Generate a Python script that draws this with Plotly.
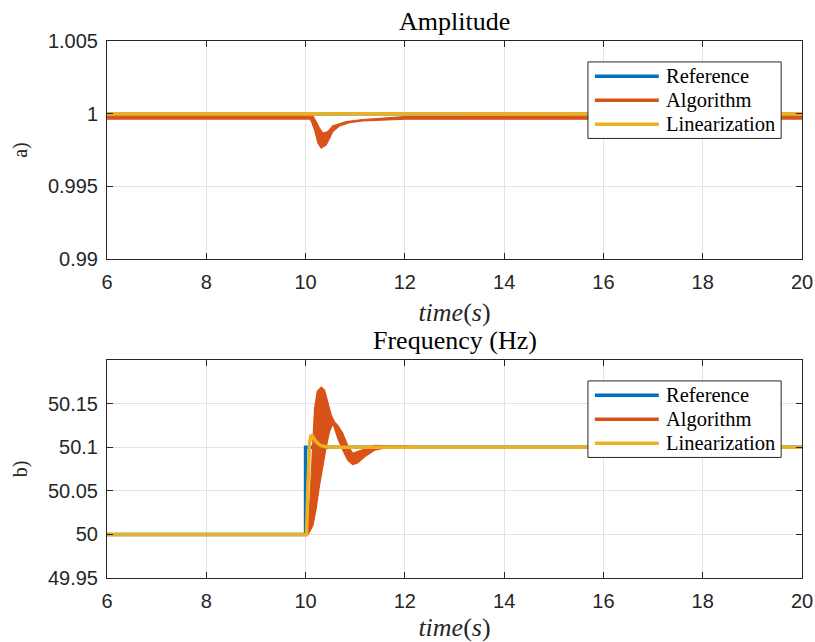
import plotly.graph_objects as go
from plotly.subplots import make_subplots

# ---------------- data ----------------
# Amplitude panel
t_amp_ref = [6, 20]
amp_ref = [1.0, 1.0]
t_amp_lin = [6, 20]
amp_lin = [1.0, 1.0]
# Algorithm: envelope of a fast-oscillating signal (upper / lower edges)
t_amp_alg_up = [6, 10.15, 10.215, 10.28, 10.35, 10.45, 10.55, 10.82, 11.15, 11.49, 12.0, 20]
amp_alg_up = [0.99983, 0.99983, 0.99945, 0.99900, 0.99866, 0.99877, 0.99916, 0.99945,
              0.99960, 0.99968, 0.99980, 0.99983]
t_amp_alg_lo = [6, 10.08, 10.115, 10.18, 10.25, 10.316, 10.417, 10.55, 10.685, 10.886,
                11.15, 11.49, 12.0, 20]
amp_alg_lo = [0.99963, 0.99963, 0.99950, 0.99888, 0.99797, 0.99763, 0.99785, 0.99877,
              0.99916, 0.99938, 0.99950, 0.99957, 0.99962, 0.99963]

# Frequency panel
t_freq_ref = [6, 10.0, 10.0, 20]
freq_ref = [50.0, 50.0, 50.1, 50.1]
t_freq_lin = [6, 10.02, 10.05, 10.08, 10.11, 10.15, 10.2, 10.25, 10.3, 10.4, 10.5, 20]
freq_lin = [50.0, 50.0, 50.06, 50.105, 50.114, 50.112, 50.107, 50.104, 50.102, 50.1005, 50.1, 50.1]
t_freq_alg_up = [6, 10.03, 10.08, 10.115, 10.147, 10.18, 10.235, 10.316, 10.383, 10.45,
                 10.517, 10.584, 10.65, 10.75, 10.85, 10.95, 11.05, 11.19, 11.39, 11.59,
                 12.0, 12.5, 13.0, 20]
freq_alg_up = [50.0, 50.0, 50.030, 50.068, 50.106, 50.144, 50.164, 50.169, 50.1655, 50.152,
               50.137, 50.129, 50.125, 50.116, 50.102, 50.093, 50.095, 50.098, 50.102, 50.1015,
               50.1008, 50.1004, 50.1, 50.1]
t_freq_alg_lo = [6, 10.05, 10.147, 10.215, 10.28, 10.35, 10.416, 10.483, 10.55, 10.65,
                 10.75, 10.85, 10.95, 11.05, 11.19, 11.39, 11.59, 12.0, 12.5, 13.0, 20]
freq_alg_lo = [50.0, 50.0, 50.010, 50.030, 50.056, 50.079, 50.100, 50.118, 50.127, 50.110,
               50.0966, 50.085, 50.080, 50.082, 50.089, 50.0966, 50.099, 50.0992, 50.0996,
               50.1, 50.1]

x_ticks = [6, 8, 10, 12, 14, 16, 18, 20]
amp_ticks = [0.99, 0.995, 1.0, 1.005]
amp_ticktext = ["0.99", "0.995", "1", "1.005"]
freq_ticks = [49.95, 50.0, 50.05, 50.1, 50.15]
freq_ticktext = ["49.95", "50", "50.05", "50.1", "50.15"]
series_names = ["Reference", "Algorithm", "Linearization"]

# ---------------- style ----------------
BLUE = "#0072BD"
ORANGE = "#D95319"
YELLOW = "#EDB120"
series_colors = [BLUE, ORANGE, YELLOW]
AX = "#262626"
GRID = "#E3E3E3"
SERIF = "Liberation Serif"
SANS = "Liberation Sans"
LW = 3.5

W, H = 815, 642
fig = make_subplots(rows=2, cols=1, vertical_spacing=101 / 537)


def add_panel(row, t_ref, y_ref, t_up, y_up, t_lo, y_lo, t_lin, y_lin):
    fig.add_trace(go.Scatter(x=t_ref, y=y_ref, mode="lines", name=series_names[0],
                             line=dict(color=BLUE, width=LW), showlegend=False), row=row, col=1)
    fig.add_trace(go.Scatter(x=list(t_up) + list(t_lo)[::-1], y=list(y_up) + list(y_lo)[::-1],
                             mode="lines", fill="toself", fillcolor=ORANGE, name=series_names[1],
                             line=dict(color=ORANGE, width=1.2), showlegend=False,
                             hoverinfo="skip"), row=row, col=1)
    fig.add_trace(go.Scatter(x=t_lin, y=y_lin, mode="lines", name=series_names[2],
                             line=dict(color=YELLOW, width=LW), showlegend=False), row=row, col=1)


add_panel(1, t_amp_ref, amp_ref, t_amp_alg_up, amp_alg_up, t_amp_alg_lo, amp_alg_lo,
          t_amp_lin, amp_lin)
add_panel(2, t_freq_ref, freq_ref, t_freq_alg_up, freq_alg_up, t_freq_alg_lo,
          freq_alg_lo, t_freq_lin, freq_lin)

axis_common = dict(showline=True, linecolor=AX, linewidth=1, mirror="ticks", ticks="inside",
                   ticklen=6, tickcolor=AX, showgrid=True, gridcolor=GRID, gridwidth=1,
                   zeroline=False, automargin=False, ticklabeloverflow="allow",
                   tickfont=dict(family=SANS, size=20, color=AX))

for r in (1, 2):
    fig.update_xaxes(range=[6, 20], tickvals=x_ticks, ticklabelstandoff=5, **axis_common,
                     title=dict(text="<i>time</i>(<i>s</i>)",
                                font=dict(family=SERIF, size=26, color=AX), standoff=10),
                     row=r, col=1)

fig.update_yaxes(range=[0.99, 1.005], tickvals=amp_ticks, ticktext=amp_ticktext,
                 ticklabelstandoff=4, **axis_common,
                 title=dict(text="a)", font=dict(family=SERIF, size=20, color=AX), standoff=14),
                 row=1, col=1)
fig.update_yaxes(range=[49.95, 50.2], tickvals=freq_ticks, ticktext=freq_ticktext,
                 ticklabelstandoff=4, **axis_common,
                 title=dict(text="b)", font=dict(family=SERIF, size=20, color=AX), standoff=14),
                 row=2, col=1)

# ---- legends drawn inside each panel (MATLAB style box) ----
shapes = []
annotations = []
leg_x0, leg_x1, leg_y0, leg_y1 = 0.692, 0.970, 0.553, 0.904
row_y = [0.838, 0.728, 0.618]
for xr, yr in (("x domain", "y domain"), ("x2 domain", "y2 domain")):
    shapes.append(dict(type="rect", xref=xr, yref=yr, x0=leg_x0, x1=leg_x1, y0=leg_y0, y1=leg_y1,
                       line=dict(color=AX, width=1), fillcolor="white", layer="above"))
    for name, col, yy in zip(series_names, series_colors, row_y):
        shapes.append(dict(type="line", xref=xr, yref=yr, x0=0.702, x1=0.794, y0=yy, y1=yy,
                           line=dict(color=col, width=LW), layer="above"))
        annotations.append(dict(text=name, xref=xr, yref=yr, x=0.801, y=yy, xanchor="left",
                                yanchor="middle", showarrow=False,
                                font=dict(family=SERIF, size=20.5, color="black")))

annotations += [
    dict(text="Amplitude", xref="x domain", yref="y domain", x=0.5, y=1, yanchor="bottom",
         yshift=3, showarrow=False, font=dict(family=SERIF, size=26, color="black")),
    dict(text="Frequency (Hz)", xref="x2 domain", yref="y2 domain", x=0.5, y=1,
         yanchor="bottom", yshift=3, showarrow=False,
         font=dict(family=SERIF, size=26, color="black")),
]

fig.update_layout(
    width=W, height=H,
    margin=dict(l=107, r=13, t=41, b=64),
    paper_bgcolor="white", plot_bgcolor="white",
    showlegend=False,
    shapes=shapes,
    annotations=annotations,
)

fig.write_html("out.html", config={"displayModeBar": False},
               post_script="document.body.style.margin='0';document.body.style.overflow='hidden';")
